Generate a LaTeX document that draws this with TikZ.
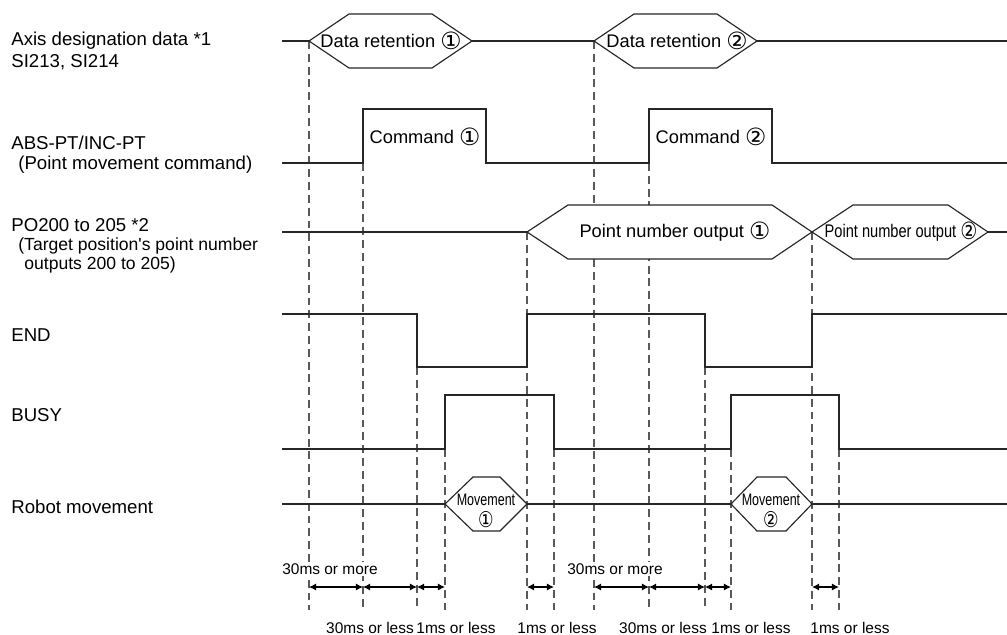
\documentclass[tikz,border=0pt]{standalone}
\usepackage{fontspec}
\setmainfont{Liberation Sans}
\newfontfamily\circfont{DejaVu Sans}
\usetikzlibrary{arrows.meta}
\newcommand{\cone}{\raisebox{-0.12em}{\scalebox{1.3}{\circfont ①}}}
\newcommand{\ctwo}{\raisebox{-0.12em}{\scalebox{1.3}{\circfont ②}}}

\begin{document}
\begin{tikzpicture}[
    x=0.02cm, y=-0.02cm,
    sig/.style={draw=black!85, line width=0.65pt},
    hexa/.style={sig, fill=white},
    guide/.style={draw=black!65, line width=0.6pt, dash pattern=on 4.5pt off 2.8pt},
    dimarrow/.style={draw=black, line width=0.6pt, {Latex[length=4pt,width=4pt]}-{Latex[length=4pt,width=4pt]}},
    lbl/.style={anchor=base west, inner sep=0pt, align=left, font=\fontsize{10.6}{12.5}\selectfont},
    sublbl/.style={anchor=base west, inner sep=0pt, align=left, font=\fontsize{10}{10.8}\selectfont},
    intext/.style={inner sep=0pt, font=\fontsize{10.4}{12}\selectfont},
    movetext/.style={inner sep=0pt, align=center, font=\fontsize{9.5}{11}\selectfont},
    timing/.style={inner sep=1pt, fill=white, font=\fontsize{8.8}{10}\selectfont}
]
  \useasboundingbox (0,0) rectangle (1007,635);

  % signal names
  \node[lbl] (axis) at (11,46) {Axis designation data *1};
  \node[lbl] (axis2) at (11,68) {SI213, SI214};
  \node[lbl] (abs) at (11,150) {ABS-PT/INC-PT};
  \node[lbl] (abs2) at (18,169) {(Point movement command)};
  \node[lbl] (po) at (11,231) {PO200 to 205 *2};
  \node[sublbl] (po2) at (18,250) {(Target position\textquotesingle s point number};
  \node[sublbl] (po3) at (24,269) {outputs 200 to 205)};
  \node[lbl] (end) at (11,341) {END};
  \node[lbl] (busy) at (11,421) {BUSY};
  \node[lbl] (robot) at (11,513) {Robot movement};

  % guide lines and timing points
  \foreach \n/\x/\top in {1/309/41, 2/363/163, 3/417/367, 4/445/449,
      5/527/232, 6/554/449, 7/594/41, 8/649/163, 9/705/367, 10/731/449,
      11/812/232, 12/839/449}{
    \coordinate (t\n) at (\x,587);
    \draw[guide] (\x,\top) -- (\x,610);
  }

  % axis designation data
  \draw[sig] (282,41) -- (309,41) (472,41) -- (594,41) (757,41) -- (1007,41);
  \draw[hexa] (309,41) -- (349,14) -- (432,14) -- (472,41) -- (432,68) -- (349,68) -- cycle;
  \draw[hexa] (594,41) -- (634,14) -- (717,14) -- (757,41) -- (717,68) -- (634,68) -- cycle;
  \node[intext] (dr1) at (391,41) {Data retention \cone};
  \node[intext] (dr2) at (677,41) {Data retention \ctwo};

  % point movement command
  \draw[sig] (282,163) -- (363,163) -- (363,109) -- (486,109) -- (486,163)
    -- (649,163) -- (649,109) -- (772,109) -- (772,163) -- (1007,163);
  \node[intext] (cmd1) at (425,137) {Command \cone};
  \node[intext] (cmd2) at (711,137) {Command \ctwo};

  % point number outputs
  \draw[sig] (282,232) -- (527,232) (988,232) -- (1007,232);
  \draw[hexa] (527,232) -- (568,205) -- (772,205) -- (812,232) -- (772,259) -- (568,259) -- cycle;
  \draw[hexa] (812,232) -- (853,205) -- (948,205) -- (988,232) -- (948,259) -- (853,259) -- cycle;
  \node[intext] (pno1) at (675,232) {Point number output \cone};
  \node[intext] (pno2) at (901,232) {\scalebox{0.8}[1]{Point number output \ctwo}};

  % END
  \draw[sig] (282,314) -- (417,314) -- (417,367) -- (527,367) -- (527,314)
    -- (705,314) -- (705,367) -- (812,367) -- (812,314) -- (1007,314);

  % BUSY
  \draw[sig] (282,449) -- (445,449) -- (445,395) -- (554,395) -- (554,449)
    -- (731,449) -- (731,395) -- (839,395) -- (839,449) -- (1007,449);

  % robot movement
  \draw[sig] (282,504) -- (445,504) (527,504) -- (731,504) (812,504) -- (1007,504);
  \draw[hexa] (445,504) -- (473,477) -- (500,477) -- (527,504) -- (500,531) -- (473,531) -- cycle;
  \draw[hexa] (731,504) -- (757,477) -- (786,477) -- (812,504) -- (786,531) -- (757,531) -- cycle;
  \node[movetext] (mv1) at (486,511) {\scalebox{0.75}[1]{Movement}\\\scalebox{0.8}[1]{\cone}};
  \node[movetext] (mv2) at (771,511) {\scalebox{0.75}[1]{Movement}\\\scalebox{0.8}[1]{\ctwo}};

  % timing spans
  \draw[dimarrow] (t1) -- (t2);
  \draw[dimarrow] (t2) -- (t3);
  \draw[dimarrow] (t3) -- (t4);
  \draw[dimarrow] (t5) -- (t6);
  \draw[dimarrow] (t7) -- (t8);
  \draw[dimarrow] (t8) -- (t9);
  \draw[dimarrow] (t9) -- (t10);
  \draw[dimarrow] (t11) -- (t12);

  \node[timing] (more1) at (330,569) {30ms or more};
  \node[timing] (more2) at (615,569) {30ms or more};
  \node[timing] (less1) at (370,628) {30ms or less};
  \node[timing] (less2) at (456,628) {1ms or less};
  \node[timing] (less3) at (557,628) {1ms or less};
  \node[timing] (less4) at (663,628) {30ms or less};
  \node[timing] (less5) at (751,628) {1ms or less};
  \node[timing] (less6) at (850,628) {1ms or less};
\end{tikzpicture}
\end{document}
